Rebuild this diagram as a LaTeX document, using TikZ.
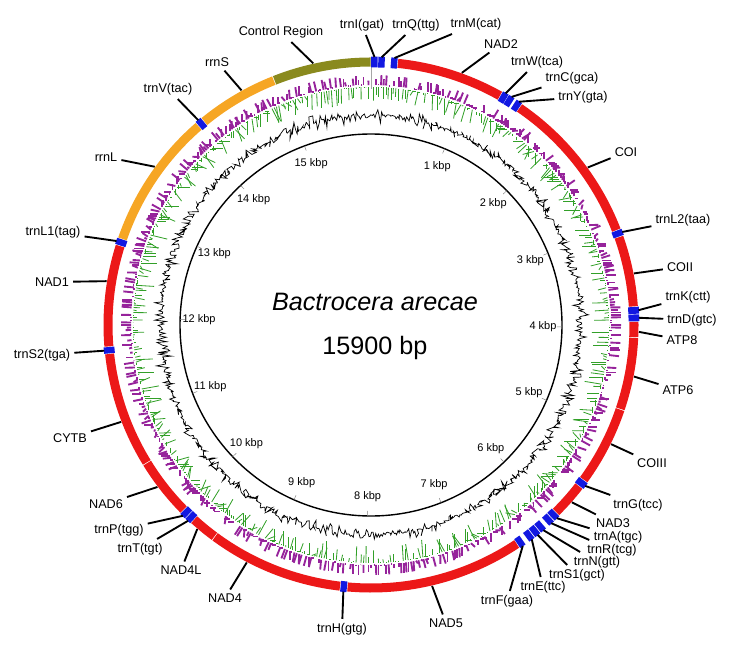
\documentclass[tikz,border=0pt]{standalone}
\usepackage{fontspec}
\setmainfont{Liberation Sans}
\definecolor{genered}{RGB}{236,24,24}
\definecolor{trnablue}{RGB}{18,24,225}
\definecolor{rrnorange}{RGB}{246,166,36}
\definecolor{ctrlolive}{RGB}{138,138,30}
\definecolor{skewpurple}{RGB}{150,35,155}
\definecolor{gcgreen}{RGB}{50,160,40}

\begin{document}
\begin{tikzpicture}[x=0.03cm, y=-0.03cm, font=\fontsize{10.8}{12}\selectfont,
  gene/.style={line width=7.7pt},
  trna/.style={trnablue, line width=9.2pt},
  lead/.style={line width=1.6pt}]
  \useasboundingbox (0,0) rectangle (731,651);
  \begin{scope}[shift={(371,325)}]
  % data tracks
  \pgfmathsetseed{4242}
  \foreach \i in {0,...,599}{
    \pgfmathsetmacro\a{\i*0.6-90}
    \draw[skewpurple, line width=1.6pt] (\a:240) -- (\a:{240+min(10,max(0,36*rnd-14))});
    \draw[gcgreen, line width=0.7pt] (\a:238) -- (\a:{238-max(0,28*rnd-10)});
  }
  \draw[line width=0.6pt] plot[domain=0:360, samples=1000, variable=\q] ({\q-90}:{210+18*(rnd-0.5)*rnd});
  \draw[gray!70, line width=0.6pt] (-90:236) -- (-90:262);
  % genes: (start bp, end bp, colour)
  \foreach \s/\e/\c in {14950/15896/ctrlolive, 259/1296/genered, 1519/3041/genered,
      3114/3796/genered, 3946/4091/genered, 4099/4796/genered, 4804/5566/genered,
      5644/5976/genered, 6464/8176/genered, 8249/9556/genered, 9564/9816/genered,
      9957/10526/genered, 10534/11646/genered, 11719/12696/genered,
      12769/14091/rrnorange, 14164/14942/rrnorange}
    \draw[gene, \c] ({\s/15900*360-90}:263) arc[start angle={\s/15900*360-90}, end angle={\e/15900*360-90}, radius=263];
  % tRNAs
  \foreach \s/\e in {2/64, 70/132, 192/253, 1302/1363, 1367/1428, 1452/1513, 3047/3108,
      3802/3868, 3874/3940, 5572/5638, 5982/6043, 6052/6113, 6152/6213, 6222/6283,
      6292/6353, 6397/6458, 8182/8243, 9822/9883, 9890/9951, 11652/11713,
      12702/12763, 14097/14158}
    \draw[trna] ({\s/15900*360-90}:263) arc[start angle={\s/15900*360-90}, end angle={\e/15900*360-90}, radius=263];
  % kbp ruler
  \draw[line width=1.2pt] (0,0) circle[radius=191];
  \foreach \k in {1,...,15}{
    \draw[gray] ({\k/15.9*360-90}:191) -- ({\k/15.9*360-90}:186);
    \node[font=\fontsize{9.4}{11}\selectfont] (k\k) at ({\k/15.9*360-90}:172) {\k\ kbp};
  }
  \end{scope}
  \node[font=\fontsize{21.5}{24}\selectfont\itshape] (title) at (375,302) {Bactrocera arecae};
  \node[font=\fontsize{21.5}{24}\selectfont] (size) at (375,348) {15900 bp};
  % labels: (name, x, y, bp on ring, text)
  \foreach \n/\lx/\ly/\b/\t in {CR/281/32/15350/Control Region, trnI/362/25/33/trnI(gat),
      trnQ/416/25/101/trnQ(ttg), trnM/476/24/222/trnM(cat), NADb/501/44/875/NAD2,
      trnW/537/62/1333/trnW(tca), trnC/572/78/1398/trnC(gca), trnY/583/97/1483/trnY(gta),
      COI/626/152/2385/COI, trnLb/683/220/3078/trnL2(taa), COII/680/267/3485/COII,
      trnK/688/297/3835/trnK(ctt), trnD/692/320/3907/trnD(gtc), ATPe/682/340/4040/ATP8,
      ATPf/678/390/4465/ATP6, COIII/652/463/5141/COIII, trnG/638/505/5605/trnG(tcc),
      NADc/613/523/5805/NAD3, trnA/618/537/6012/trnA(tgc), trnR/612/550/6082/trnR(tcg),
      trnN/597/562/6182/trnN(gtt), trnSa/577/575/6252/trnS1(gct), trnE/543/587/6322/trnE(ttc),
      trnF/507/601/6427/trnF(gaa), NADe/446/623/7368/NAD5, trnH/342/629/8212/trnH(gtg),
      NADd/225/598/9170/NAD4, NADl/181/570/9735/NAD4L, trnT/140/549/9852/trnT(tgt),
      trnP/119/530/9920/trnP(tgg), NADf/106/504/10283/NAD6, CYTB/70/438/10989/CYTB,
      trnSb/42/355/11682/trnS2(tga), NADa/52/282/12341/NAD1, trnLa/53/232/12732/trnL1(tag),
      rrnL/106/157/13524/rrnL, trnV/168/89/14127/trnV(tac), rrnS/217/62/14624/rrnS}{
    \node (l\n) at (\lx,\ly) {\t};
    \path (371,325) ++({\b/15900*360-90}:268) coordinate (r\n);
    \draw[lead] (l\n) -- (r\n);
  }
\end{tikzpicture}
\end{document}
